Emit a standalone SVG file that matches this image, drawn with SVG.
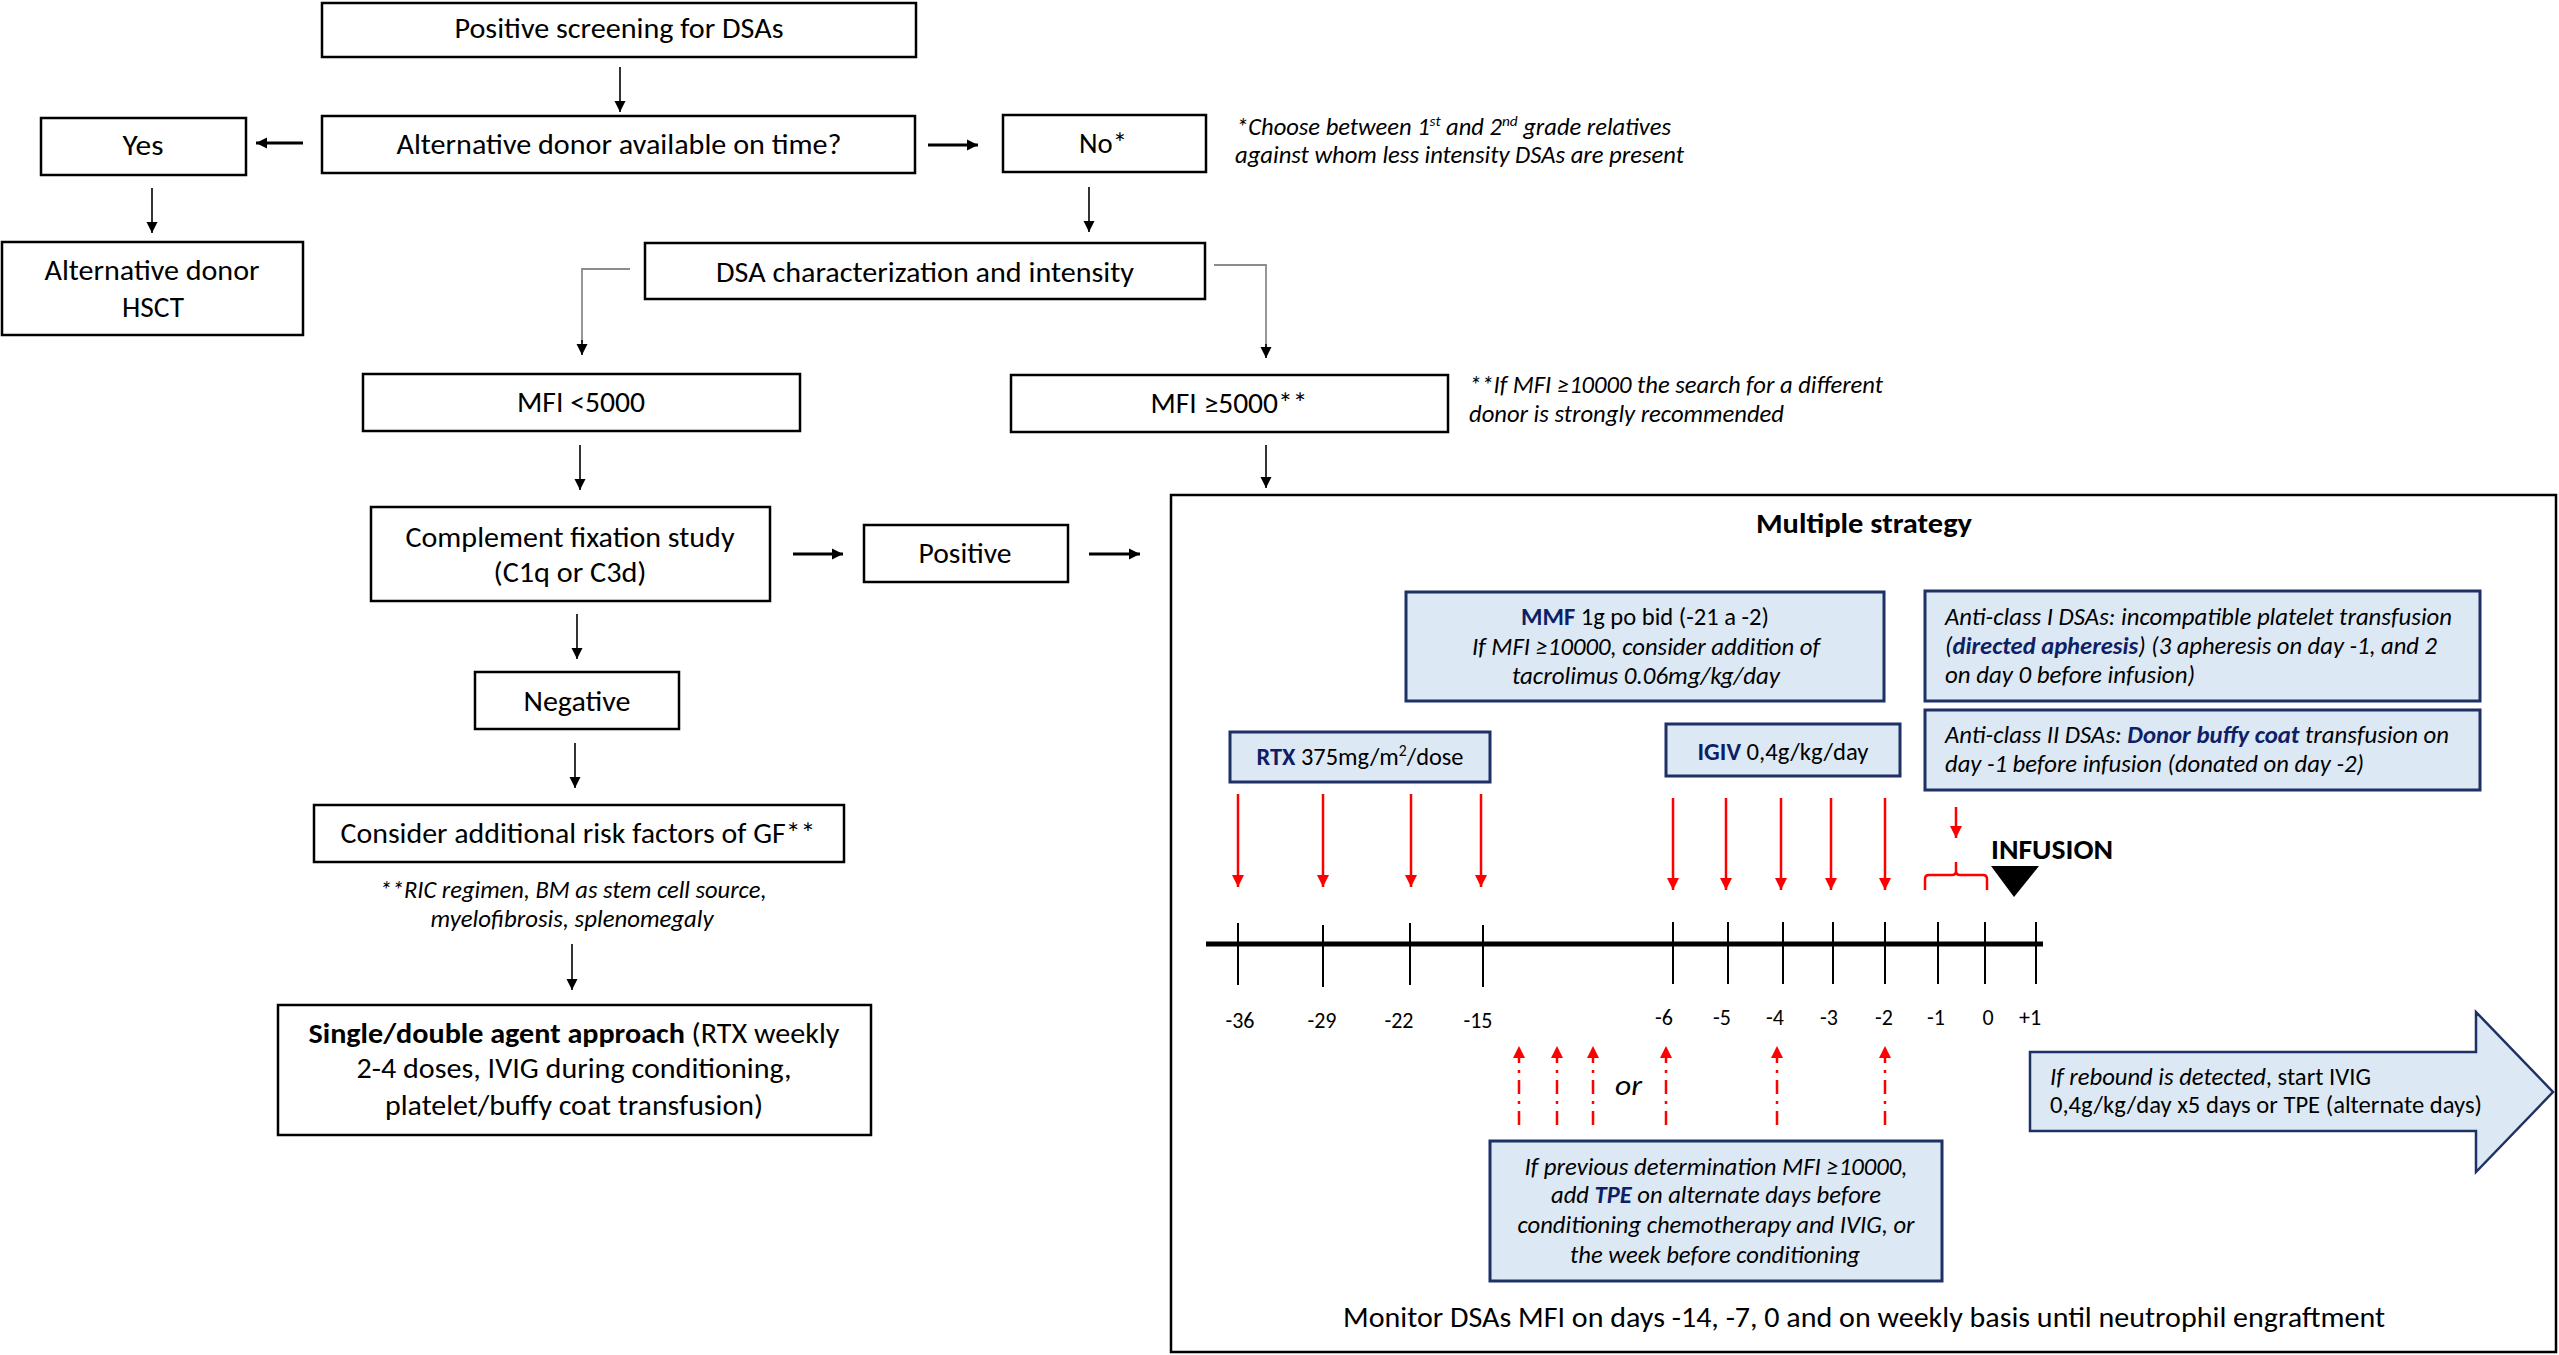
<svg xmlns="http://www.w3.org/2000/svg" width="2559" height="1355" viewBox="0 0 2559 1355">
<style>
text{font-family:Carlito,Lato,"Liberation Sans",sans-serif;fill:#000;}
.t{font-size:28px;}
.c{text-anchor:middle;}
.i{font-style:italic;font-size:24px;}
.b{font-weight:bold;}
.n{fill:#0f1f66;font-weight:bold;}
.lb{font-size:22px;text-anchor:middle;}
.box{fill:#fff;stroke:#000;stroke-width:2.5;}
.bb{fill:#dce8f4;stroke:#1f3064;stroke-width:3;}
.ln{stroke:#000;stroke-width:1.6;fill:none;}
.lt{stroke:#000;stroke-width:3;fill:none;}
.gr{stroke:#8c8c8c;stroke-width:1.8;fill:none;}
.rd{stroke:#ff0000;stroke-width:2.5;fill:none;}
.rdd{stroke:#ff0000;stroke-width:2.5;fill:none;stroke-dasharray:14 7 3 7;}
.tk{stroke:#000;stroke-width:2;}
</style>
<defs>
<marker id="ah" viewBox="0 0 10 10" refX="10" refY="5" markerWidth="11" markerHeight="15" markerUnits="userSpaceOnUse" orient="auto"><path d="M0,0 L10,5 L0,10 z" fill="#000"/></marker>
<marker id="ahs" viewBox="0 0 10 10" refX="10" refY="5" markerWidth="11" markerHeight="13" markerUnits="userSpaceOnUse" orient="auto"><path d="M0,0 L10,5 L0,10 z" fill="#000"/></marker>
<marker id="ahr" viewBox="0 0 10 10" refX="10" refY="5" markerWidth="17" markerHeight="12" markerUnits="userSpaceOnUse" orient="auto"><path d="M0,0 L10,5 L0,10 z" fill="#ff0000"/></marker>
</defs>

<g id="connectors">
<line class="ln" x1="620" y1="67" x2="620" y2="112" marker-end="url(#ah)"/>
<line class="lt" x1="303" y1="143" x2="256" y2="143" marker-end="url(#ahs)"/>
<line class="lt" x1="928" y1="145" x2="978" y2="145" marker-end="url(#ahs)"/>
<line class="ln" x1="152" y1="188" x2="152" y2="233" marker-end="url(#ah)"/>
<line class="ln" x1="1089" y1="187" x2="1089" y2="232" marker-end="url(#ah)"/>
<polyline class="gr" points="630,269 582,269 582,343"/>
<line class="ln" x1="582" y1="340" x2="582" y2="355" marker-end="url(#ah)"/>
<polyline class="gr" points="1214,265 1266,265 1266,347"/>
<line class="ln" x1="1266" y1="344" x2="1266" y2="358" marker-end="url(#ah)"/>
<line class="ln" x1="1266" y1="445" x2="1266" y2="488" marker-end="url(#ah)"/>
<line class="ln" x1="580" y1="445" x2="580" y2="490" marker-end="url(#ah)"/>
<line class="lt" x1="793" y1="554" x2="843" y2="554" marker-end="url(#ahs)"/>
<line class="lt" x1="1089" y1="554" x2="1140" y2="554" marker-end="url(#ahs)"/>
<line class="ln" x1="577" y1="614" x2="577" y2="659" marker-end="url(#ah)"/>
<line class="ln" x1="575" y1="743" x2="575" y2="788" marker-end="url(#ah)"/>
<line class="ln" x1="572" y1="944" x2="572" y2="990" marker-end="url(#ah)"/>
</g>

<g id="n-positive-screening"><rect class="box" x="322" y="3" width="594" height="54"/><text class="t c" x="619" y="38" textLength="329" lengthAdjust="spacingAndGlyphs">Positive screening for DSAs</text></g>
<g id="n-alt-available"><rect class="box" x="322" y="116" width="593" height="57"/><text class="t c" x="619" y="154" textLength="445" lengthAdjust="spacingAndGlyphs">Alternative donor available on time?</text></g>
<g id="n-yes"><rect class="box" x="41" y="118" width="205" height="57"/><text class="t c" x="143" y="155" textLength="41" lengthAdjust="spacingAndGlyphs">Yes</text></g>
<g id="n-no"><rect class="box" x="1003" y="115" width="203" height="57"/><text class="t c" x="1103" y="153" textLength="48" lengthAdjust="spacingAndGlyphs">No*</text></g>
<g id="note-choose"><text class="i" x="1236" y="135" textLength="435" lengthAdjust="spacingAndGlyphs">*Choose between 1<tspan baseline-shift="super" font-size="15">st</tspan> and 2<tspan baseline-shift="super" font-size="15">nd</tspan> grade relatives</text><text class="i" x="1235" y="163" textLength="449" lengthAdjust="spacingAndGlyphs">against whom less intensity DSAs are present</text></g>
<g id="n-alt-hsct"><rect class="box" x="2" y="242" width="301" height="93"/><text class="t c" x="152" y="280" textLength="215" lengthAdjust="spacingAndGlyphs">Alternative donor</text><text class="t c" x="153" y="317" textLength="62" lengthAdjust="spacingAndGlyphs">HSCT</text></g>
<g id="n-dsa-char"><rect class="box" x="645" y="243" width="560" height="56"/><text class="t c" x="925" y="282" textLength="418" lengthAdjust="spacingAndGlyphs">DSA characterization and intensity</text></g>
<g id="n-mfi-low"><rect class="box" x="363" y="374" width="437" height="57"/><text class="t c" x="581" y="412" textLength="128" lengthAdjust="spacingAndGlyphs">MFI &lt;5000</text></g>
<g id="n-mfi-high"><rect class="box" x="1011" y="375" width="437" height="57"/><text class="t c" x="1229" y="413" textLength="157" lengthAdjust="spacingAndGlyphs">MFI ≥5000**</text></g>
<g id="note-mfi"><text class="i" x="1469" y="393" textLength="414" lengthAdjust="spacingAndGlyphs">**If MFI ≥10000 the search for a different</text><text class="i" x="1469" y="422" textLength="315" lengthAdjust="spacingAndGlyphs">donor is strongly recommended</text></g>
<g id="n-complement"><rect class="box" x="371" y="507" width="399" height="94"/><text class="t c" x="570" y="547" textLength="329" lengthAdjust="spacingAndGlyphs">Complement fixation study</text><text class="t c" x="570" y="582" textLength="153" lengthAdjust="spacingAndGlyphs">(C1q or C3d)</text></g>
<g id="n-positive"><rect class="box" x="864" y="525" width="204" height="57"/><text class="t c" x="965" y="563" textLength="93" lengthAdjust="spacingAndGlyphs">Positive</text></g>
<g id="n-negative"><rect class="box" x="475" y="672" width="204" height="57"/><text class="t c" x="577" y="711" textLength="107" lengthAdjust="spacingAndGlyphs">Negative</text></g>
<g id="n-consider"><rect class="box" x="314" y="805" width="530" height="57"/><text class="t c" x="578" y="843" textLength="475" lengthAdjust="spacingAndGlyphs">Consider additional risk factors of GF**</text></g>
<g id="note-ric"><text class="i c" x="573" y="898" textLength="387" lengthAdjust="spacingAndGlyphs">**RIC regimen, BM as stem cell source,</text><text class="i c" x="572" y="927" textLength="283" lengthAdjust="spacingAndGlyphs">myelofibrosis, splenomegaly</text></g>
<g id="n-single"><rect class="box" x="278" y="1005" width="593" height="130"/><text class="t c" x="574" y="1043" textLength="531" lengthAdjust="spacingAndGlyphs"><tspan class="b">Single/double agent approach</tspan> (RTX weekly</text><text class="t c" x="574" y="1078" textLength="435" lengthAdjust="spacingAndGlyphs">2-4 doses, IVIG during conditioning,</text><text class="t c" x="574" y="1115" textLength="378" lengthAdjust="spacingAndGlyphs">platelet/buffy coat transfusion)</text></g>

<g id="n-multiple">
<rect x="1171" y="495" width="1385" height="857" fill="#fff" stroke="#000" stroke-width="2.5"/>
<text class="t c b" x="1864" y="533" textLength="216" lengthAdjust="spacingAndGlyphs">Multiple strategy</text>

<g id="n-mmf"><rect class="bb" x="1406" y="592" width="478" height="109"/><text class="c" font-size="25" x="1645" y="625" textLength="248" lengthAdjust="spacingAndGlyphs"><tspan class="n">MMF</tspan> 1g po bid (-21 a -2)</text><text class="c" font-size="25" font-style="italic" x="1646" y="655" textLength="348" lengthAdjust="spacingAndGlyphs">If MFI ≥10000, consider addition of</text><text class="c" font-size="25" font-style="italic" x="1646" y="684" textLength="268" lengthAdjust="spacingAndGlyphs">tacrolimus 0.06mg/kg/day</text></g>

<g id="n-class1"><rect class="bb" x="1925" y="591" width="555" height="110"/><text font-size="25" font-style="italic" x="1945" y="625" textLength="507" lengthAdjust="spacingAndGlyphs">Anti-class I DSAs: incompatible platelet transfusion</text><text font-size="25" font-style="italic" x="1945" y="654" textLength="492" lengthAdjust="spacingAndGlyphs">(<tspan class="n">directed apheresis</tspan>) (3 apheresis on day -1, and 2</text><text font-size="25" font-style="italic" x="1945" y="683" textLength="250" lengthAdjust="spacingAndGlyphs">on day 0 before infusion)</text></g>

<g id="n-class2"><rect class="bb" x="1925" y="710" width="555" height="80"/><text font-size="25" font-style="italic" x="1945" y="743" textLength="504" lengthAdjust="spacingAndGlyphs">Anti-class II DSAs: <tspan class="n">Donor buffy coat</tspan> transfusion on</text><text font-size="25" font-style="italic" x="1945" y="772" textLength="419" lengthAdjust="spacingAndGlyphs">day -1 before infusion (donated on day -2)</text></g>

<g id="n-rtx"><rect class="bb" x="1230" y="732" width="260" height="50"/><text class="c" font-size="25" x="1360" y="765" textLength="207" lengthAdjust="spacingAndGlyphs"><tspan class="n">RTX</tspan> 375mg/m<tspan baseline-shift="super" font-size="16">2</tspan>/dose</text></g>

<g id="n-igiv"><rect class="bb" x="1666" y="724" width="234" height="52"/><text class="c" font-size="25" x="1783" y="760" textLength="171" lengthAdjust="spacingAndGlyphs"><tspan class="n">IGIV</tspan> 0,4g/kg/day</text></g>

<g id="timeline">
<line x1="1206" y1="944" x2="2043" y2="944" stroke="#000" stroke-width="5"/>
<line class="tk" x1="1238" y1="923" x2="1238" y2="985"/>
<line class="tk" x1="1323" y1="925" x2="1323" y2="987"/>
<line class="tk" x1="1410" y1="923" x2="1410" y2="985"/>
<line class="tk" x1="1483" y1="925" x2="1483" y2="987"/>
<line class="tk" x1="1673" y1="922" x2="1673" y2="984"/>
<line class="tk" x1="1728" y1="922" x2="1728" y2="984"/>
<line class="tk" x1="1783" y1="922" x2="1783" y2="984"/>
<line class="tk" x1="1833" y1="922" x2="1833" y2="984"/>
<line class="tk" x1="1885" y1="922" x2="1885" y2="984"/>
<line class="tk" x1="1938" y1="922" x2="1938" y2="984"/>
<line class="tk" x1="1985" y1="922" x2="1985" y2="984"/>
<line class="tk" x1="2036" y1="922" x2="2036" y2="984"/>
<text class="lb" x="1240" y="1028">-36</text>
<text class="lb" x="1322" y="1028">-29</text>
<text class="lb" x="1399" y="1028">-22</text>
<text class="lb" x="1478" y="1028">-15</text>
<text class="lb" x="1664" y="1025">-6</text>
<text class="lb" x="1722" y="1025">-5</text>
<text class="lb" x="1775" y="1025">-4</text>
<text class="lb" x="1829" y="1025">-3</text>
<text class="lb" x="1884" y="1025">-2</text>
<text class="lb" x="1936" y="1025">-1</text>
<text class="lb" x="1988" y="1025">0</text>
<text class="lb" x="2030" y="1025">+1</text>
</g>

<g id="red-arrows">
<line class="rd" x1="1238" y1="794" x2="1238" y2="887" marker-end="url(#ahr)"/>
<line class="rd" x1="1323" y1="794" x2="1323" y2="887" marker-end="url(#ahr)"/>
<line class="rd" x1="1411" y1="794" x2="1411" y2="887" marker-end="url(#ahr)"/>
<line class="rd" x1="1481" y1="794" x2="1481" y2="887" marker-end="url(#ahr)"/>
<line class="rd" x1="1673" y1="798" x2="1673" y2="890" marker-end="url(#ahr)"/>
<line class="rd" x1="1726" y1="798" x2="1726" y2="890" marker-end="url(#ahr)"/>
<line class="rd" x1="1781" y1="798" x2="1781" y2="890" marker-end="url(#ahr)"/>
<line class="rd" x1="1831" y1="798" x2="1831" y2="890" marker-end="url(#ahr)"/>
<line class="rd" x1="1885" y1="798" x2="1885" y2="890" marker-end="url(#ahr)"/>
<line class="rd" x1="1956" y1="807" x2="1956" y2="838" marker-end="url(#ahr)"/>
<path class="rd" d="M1925,890 V879 Q1925,875 1929,875 H1952 Q1956,875 1956,871 V862 M1956,871 Q1956,875 1960,875 H1983 Q1987,875 1987,879 V890"/>
<line class="rdd" x1="1519" y1="1125" x2="1519" y2="1046" marker-end="url(#ahr)"/>
<line class="rdd" x1="1557" y1="1125" x2="1557" y2="1046" marker-end="url(#ahr)"/>
<line class="rdd" x1="1593" y1="1125" x2="1593" y2="1046" marker-end="url(#ahr)"/>
<line class="rdd" x1="1666" y1="1125" x2="1666" y2="1046" marker-end="url(#ahr)"/>
<line class="rdd" x1="1777" y1="1125" x2="1777" y2="1046" marker-end="url(#ahr)"/>
<line class="rdd" x1="1885" y1="1125" x2="1885" y2="1046" marker-end="url(#ahr)"/>
</g>
<text x="1615" y="1095" font-size="28" font-style="italic" textLength="27" lengthAdjust="spacingAndGlyphs">or</text>

<g id="n-infusion"><text class="t b" x="1991" y="859" textLength="122" lengthAdjust="spacingAndGlyphs">INFUSION</text><polygon points="1991,866 2039,866 2014,897" fill="#000"/></g>

<g id="n-tpe"><rect class="bb" x="1490" y="1141" width="452" height="140"/><text class="c" font-size="25" font-style="italic" x="1716" y="1175" textLength="383" lengthAdjust="spacingAndGlyphs">If previous determination MFI ≥10000,</text><text class="c" font-size="25" font-style="italic" x="1716" y="1203" textLength="330" lengthAdjust="spacingAndGlyphs">add <tspan class="n">TPE</tspan> on alternate days before</text><text class="c" font-size="25" font-style="italic" x="1716" y="1233" textLength="397" lengthAdjust="spacingAndGlyphs">conditioning chemotherapy and IVIG, or</text><text class="c" font-size="25" font-style="italic" x="1715" y="1263" textLength="290" lengthAdjust="spacingAndGlyphs">the week before conditioning</text></g>

<g id="n-rebound"><polygon points="2030,1052 2476,1052 2476,1012 2553,1092 2476,1172 2476,1131 2030,1131" fill="#dce8f4" stroke="#1f3064" stroke-width="2.5"/><text font-size="25" x="2050" y="1085" textLength="321" lengthAdjust="spacingAndGlyphs"><tspan font-style="italic">If rebound is detected</tspan>, start IVIG</text><text font-size="25" x="2050" y="1113" textLength="432" lengthAdjust="spacingAndGlyphs">0,4g/kg/day x5 days or TPE (alternate days)</text></g>

<text class="t c" x="1864" y="1327" textLength="1042" lengthAdjust="spacingAndGlyphs">Monitor DSAs MFI on days -14, -7, 0 and on weekly basis until neutrophil engraftment</text>
</g>
</svg>
